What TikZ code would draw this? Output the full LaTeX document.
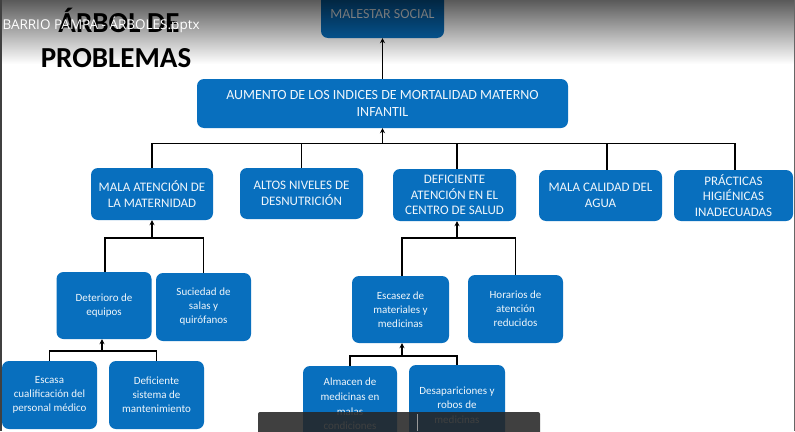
\documentclass[tikz,border=0pt]{standalone}
\usepackage{fontspec}
\setmainfont{Carlito}
\newfontfamily\ofont{Open Sans}
\usetikzlibrary{fadings,calc,arrows.meta}
\definecolor{boxblue}{RGB}{8,111,190}
\tikzfading[name=topfade, top color=transparent!35, bottom color=transparent!100]
\begin{document}
\begin{tikzpicture}[x=1pt,y=-1pt,
  box/.style={fill=boxblue, rounded corners=7pt, text=white!94!boxblue, align=center, inner sep=0pt},
  lvA/.style={box, font=\fontsize{14}{17}\selectfont},
  lvB/.style={box, font=\fontsize{13}{15.5}\selectfont},
  lvC/.style={box, font=\fontsize{11}{14}\selectfont},
  lvD/.style={box, font=\fontsize{11}{14.6}\selectfont},
  conn/.style={draw=black, line width=1.3pt},
  arr/.style={conn, -{Stealth[length=5pt,width=5pt]}},
  ttl/.style={font=\bfseries\fontsize{29}{35}\selectfont, anchor=base, text=black}]
\useasboundingbox (0,0) rectangle (795,431);
\fill[white] (0,0) rectangle (795,431);

% title
\node[ttl] (t1) at (119,32) {ÁRBOL DE};
\node[ttl] (t2) at (116,67) {PROBLEMAS};

% level 0 / 1
\node[lvA, minimum width=123pt, minimum height=48pt] (mal) at (382.5,14) {MALESTAR SOCIAL};
\node[lvA, minimum width=371pt, minimum height=49pt] (aum) at (382.5,103.5) {AUMENTO DE LOS INDICES DE MORTALIDAD MATERNO\\INFANTIL};

% level 2
\node[lvB, minimum width=122pt, minimum height=52pt] (n1) at (152,194) {MALA ATENCIÓN DE\\LA MATERNIDAD};
\node[lvB, minimum width=123pt, minimum height=51pt] (n2) at (301.5,193.5) {ALTOS NIVELES DE\\DESNUTRICIÓN};
\node[lvB, minimum width=123pt, minimum height=52pt] (n3) at (454.5,195) {DEFICIENTE\\ATENCIÓN EN EL\\CENTRO DE SALUD};
\node[lvB, minimum width=123pt, minimum height=51pt] (n4) at (600.5,195.5) {MALA CALIDAD DEL\\AGUA};
\node[lvB, minimum width=119pt, minimum height=51pt] (n5) at (733.5,195.5) {PRÁCTICAS\\HIGIÉNICAS\\INADECUADAS};

% level 3
\node[lvC, minimum width=95pt, minimum height=67pt] (d1) at (104,305.5) {Deterioro de\\equipos};
\node[lvC, minimum width=95pt, minimum height=68pt] (d2) at (203.5,307) {Suciedad de\\salas y\\quirófanos};
\node[lvC, minimum width=97pt, minimum height=67pt] (e1) at (400.5,309.5) {Escasez de\\materiales y\\medicinas};
\node[lvC, minimum width=95pt, minimum height=68pt] (e2) at (515.5,309) {Horarios de\\atención\\reducidos};

% level 4
\node[lvC, minimum width=95pt, minimum height=68pt] (f1) at (49.5,395) {Escasa\\cualificación del\\personal médico};
\node[lvC, minimum width=95pt, minimum height=68pt] (f2) at (156.5,395) {Deficiente\\sistema de\\mantenimiento};
\node[lvD, minimum width=94pt, minimum height=76pt] (g1) at (350,404) {Almacen de\\medicinas en\\malas\\condiciones};
\node[lvD, minimum width=96pt, minimum height=80pt] (g2) at (457,405) {Desapariciones y\\robos de\\medicinas};

% connectors
\coordinate (bus) at (382.5,143.5);
\draw[conn] (n1.north) |- (bus) -| ($(n5.north)+(1.5,0)$);
\draw[conn] (n2.north) -- (n2.north |- bus);
\draw[conn] ($(n3.north)+(2.5,0)$) -- ($(n3.north |- bus)+(2.5,0)$);
\draw[conn] ($(n4.north)+(6.5,0)$) -- ($(n4.north |- bus)+(6.5,0)$);
\draw[arr] (bus) -- (aum.south);
\draw[arr] (aum.north) -- (mal.south);

\coordinate (jA) at (152,238);
\draw[conn] ($(d1.north)+(1,0)$) |- (jA) -| (d2.north);
\draw[arr] (jA) -- (n1.south);

\coordinate (jB) at (457,238);
\draw[conn] ($(e1.north)+(1.5,0)$) |- (jB) -| (e2.north);
\draw[arr] (jB) -- (jB |- n3.south);

\coordinate (jC) at (102,351);
\draw[conn] (f1.north) |- (jC) -| (f2.north);
\draw[arr] (jC) -- (jC |- d1.south);

\coordinate (jD) at (402,356);
\draw[conn] (g1.north) |- (jD) -| (g2.north);
\draw[arr] (jD) -- (jD |- e1.south);

% top gradient overlay
\fill[black, path fading=topfade] (0,0) rectangle (795,64);

% file name overlay
\node[anchor=base west, font=\ofont\fontsize{13.5}{16}\selectfont, text=white] (fname) at (-1,29) {BARRIO PAMPA - ÁRBOLES.pptx};

% bottom viewer bar
\fill[black!85, opacity=0.88, rounded corners=2pt] (258,412) rectangle (540,440);
\draw[gray!80, line width=0.6pt] (417,414) -- (417,431);

% window borders
\draw[black!75, line width=1.6pt] (0.8,0) -- (0.8,431);
\draw[black!60, line width=0.8pt] (794.4,0) -- (794.4,431);
\end{tikzpicture}
\end{document}
